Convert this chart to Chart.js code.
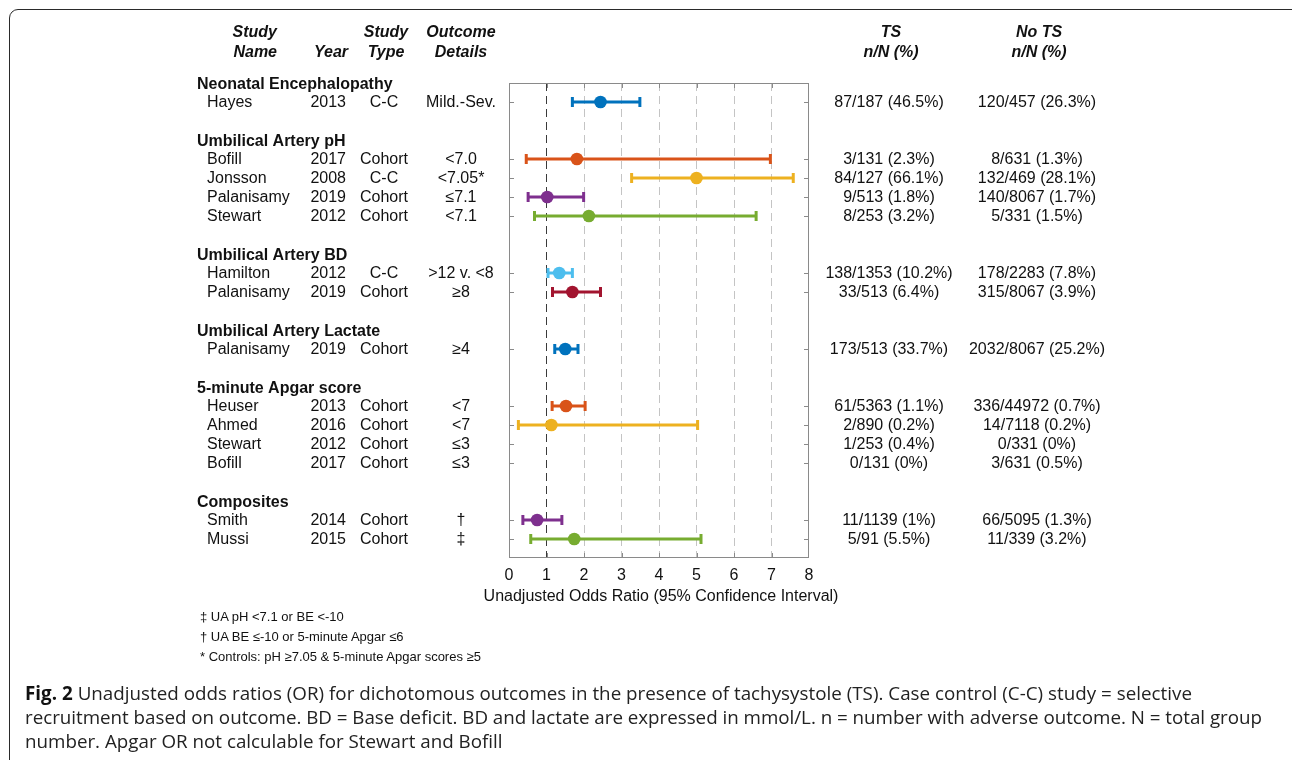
<!DOCTYPE html>
<html>
<head>
<meta charset="utf-8">
<script src="https://cdn.jsdelivr.net/npm/chart.js@4.4.1/dist/chart.umd.min.js"></script>
<style>
  html, body { margin:0; padding:0; background:#fff; width:1292px; height:760px; overflow:hidden; }
  #frame { position:absolute; left:9px; top:9px; width:1300px; height:800px; border:1.5px solid #2a2a2a; border-radius:9px; box-sizing:border-box; }
  #c { position:absolute; left:0; top:0; }
  #notes { position:absolute; left:200px; top:607px; font:13px "Liberation Sans", Arial, sans-serif; color:#111; line-height:20px; }
  #caption { position:absolute; left:25px; top:681px; font:16px "Open Sans", "Noto Sans", sans-serif; color:#222; line-height:24px; }
  #caption .ln { display:block; white-space:nowrap; width:max-content; }
  #caption b { font-weight:700; color:#111; }
</style>
</head>
<body>
<div id="frame"></div>
<canvas id="c" width="1292" height="760"></canvas>
<div id="notes">
  <div>‡ UA pH &lt;7.1 or BE &lt;-10</div>
  <div>† UA BE ≤-10 or 5-minute Apgar ≤6</div>
  <div>* Controls: pH ≥7.05 &amp; 5-minute Apgar scores ≥5</div>
</div>
<div id="caption">
  <span class="ln" data-w="1167"><b>Fig. 2</b> Unadjusted odds ratios (OR) for dichotomous outcomes in the presence of tachysystole (TS). Case control (C-C) study = selective</span>
  <span class="ln" data-w="1237">recruitment based on outcome. BD = Base deficit. BD and lactate are expressed in mmol/L. n = number with adverse outcome. N = total group</span>
  <span class="ln">number. Apgar OR not calculable for Stewart and Bofill</span>
</div>
<script>
// ---------------- data ----------------
const groupNames = ["Neonatal Encephalopathy", "Umbilical Artery pH", "Umbilical Artery BD", "Umbilical Artery Lactate", "5-minute Apgar score", "Composites"];
const groupRows = [0, 3, 9, 13, 16, 22];

const studyNames = ["Hayes", "Bofill", "Jonsson", "Palanisamy", "Stewart", "Hamilton", "Palanisamy", "Palanisamy", "Heuser", "Ahmed", "Stewart", "Bofill", "Smith", "Mussi"];
const studyYears = ["2013", "2017", "2008", "2019", "2012", "2012", "2019", "2019", "2013", "2016", "2012", "2017", "2014", "2015"];
const studyTypes = ["C-C", "Cohort", "C-C", "Cohort", "Cohort", "C-C", "Cohort", "Cohort", "Cohort", "Cohort", "Cohort", "Cohort", "Cohort", "Cohort"];
const outcomeDetails = ["Mild.-Sev.", "<7.0", "<7.05*", "≤7.1", "<7.1", ">12 v. <8", "≥8", "≥4", "<7", "<7", "≤3", "≤3", "†", "‡"];
const studyRows = [1, 4, 5, 6, 7, 10, 11, 14, 17, 18, 19, 20, 23, 24];

const oddsRatio = [2.44, 1.81, 5.00, 1.02, 2.13, 1.34, 1.69, 1.50, 1.52, 1.13, null, null, 0.75, 1.74];
const ciLow     = [1.69, 0.46, 3.27, 0.51, 0.68, 1.04, 1.16, 1.22, 1.15, 0.25, null, null, 0.37, 0.58];
const ciHigh    = [3.49, 6.97, 7.58, 1.99, 6.59, 1.69, 2.44, 1.84, 2.03, 5.03, null, null, 1.41, 5.12];

const tsCounts   = ["87/187 (46.5%)", "3/131 (2.3%)", "84/127 (66.1%)", "9/513 (1.8%)", "8/253 (3.2%)", "138/1353 (10.2%)", "33/513 (6.4%)", "173/513 (33.7%)", "61/5363 (1.1%)", "2/890 (0.2%)", "1/253 (0.4%)", "0/131 (0%)", "11/1139 (1%)", "5/91 (5.5%)"];
const noTsCounts = ["120/457 (26.3%)", "8/631 (1.3%)", "132/469 (28.1%)", "140/8067 (1.7%)", "5/331 (1.5%)", "178/2283 (7.8%)", "315/8067 (3.9%)", "2032/8067 (25.2%)", "336/44972 (0.7%)", "14/7118 (0.2%)", "0/331 (0%)", "3/631 (0.5%)", "66/5095 (1.3%)", "11/339 (3.2%)"];

const studyColors = ["#0072BD", "#D95319", "#EDB120", "#7E2F8E", "#77AC30", "#4DBEEE", "#A2142F", "#0072BD", "#D95319", "#EDB120", "#7E2F8E", "#77AC30", "#7E2F8E", "#77AC30"];

const xAxisTitle = "Unadjusted Odds Ratio (95% Confidence Interval)";

// ---------------- datasets ----------------
const datasets = [];
studyNames.forEach((n, i) => {
  if (oddsRatio[i] === null) return;
  datasets.push({
    label: n + " OR",
    data: [{ x: oddsRatio[i], y: studyRows[i] }],
    pointRadius: 6.3,
    pointBackgroundColor: studyColors[i],
    pointBorderWidth: 0,
    pointBorderColor: studyColors[i],
    showLine: false,
    order: 0
  });
  datasets.push({
    label: n + " CI",
    data: [{ x: ciLow[i], y: studyRows[i] }, { x: ciHigh[i], y: studyRows[i] }],
    showLine: true,
    borderColor: studyColors[i],
    borderWidth: 3,
    pointStyle: 'line',
    pointRotation: 90,
    pointRadius: 5,
    pointBorderWidth: 3,
    pointBorderColor: studyColors[i],
    order: 1
  });
});

const FONT = '"Liberation Sans", Arial, sans-serif';
const TXT = '#111';

const framePlugin = {
  id: 'frameTicks',
  afterDatasetsDraw(chart) {
    const { ctx, chartArea: a, scales: { x, y } } = chart;
    ctx.save();
    ctx.strokeStyle = '#8a8a8a';
    ctx.lineWidth = 1;
    ctx.strokeRect(Math.round(a.left) + 0.5, Math.round(a.top) + 0.5, Math.round(a.right - a.left) - 1, Math.round(a.bottom - a.top) - 1);
    ctx.beginPath();
    studyRows.forEach(r => {
      const py = Math.round(y.getPixelForValue(r)) + 0.5;
      ctx.moveTo(a.left, py); ctx.lineTo(a.left + 5, py);
      ctx.moveTo(a.right - 5, py); ctx.lineTo(a.right, py);
    });
    x.ticks.forEach(t => {
      if (t.value <= 0 || t.value >= 8) return;
      const px = Math.round(x.getPixelForValue(t.value)) + 0.5;
      ctx.moveTo(px, a.bottom); ctx.lineTo(px, a.bottom - 5);
      ctx.moveTo(px, a.top); ctx.lineTo(px, a.top + 5);
    });
    ctx.stroke();
    ctx.restore();
  },
  afterDraw(chart) {
    const { ctx, chartArea: a, scales: { x, y } } = chart;
    ctx.save();
    ctx.fillStyle = TXT;
    ctx.textBaseline = 'middle';
    // x axis title (drawn at full width, centred on the axis)
    ctx.font = '16px ' + FONT;
    ctx.textAlign = 'center';
    ctx.fillText(xAxisTitle, x.getPixelForValue(4) + 2, a.bottom + 39);
    // column headers
    const h1 = a.top - 50, h2 = a.top - 30;
    ctx.font = 'italic bold 16px ' + FONT;
    ctx.textAlign = 'right';
    ctx.fillText('Study', 277, h1); ctx.fillText('Name', 277, h2);
    ctx.fillText('Year', 348, h2);
    ctx.textAlign = 'center';
    ctx.fillText('Study', 386, h1); ctx.fillText('Type', 386, h2);
    ctx.fillText('Outcome', 461, h1); ctx.fillText('Details', 461, h2);
    ctx.fillText('TS', 891, h1); ctx.fillText('n/N (%)', 891, h2);
    ctx.fillText('No TS', 1039, h1); ctx.fillText('n/N (%)', 1039, h2);
    // group headers
    ctx.font = 'bold 16px ' + FONT;
    ctx.textAlign = 'left';
    groupNames.forEach((g, i) => ctx.fillText(g, 197, y.getPixelForValue(groupRows[i]) + 2));
    // study rows
    ctx.font = '16px ' + FONT;
    studyNames.forEach((n, i) => {
      const py = y.getPixelForValue(studyRows[i]) + 1;
      ctx.textAlign = 'left'; ctx.fillText(n, 207, py);
      ctx.textAlign = 'right'; ctx.fillText(studyYears[i], 346, py);
      ctx.textAlign = 'center';
      ctx.fillText(studyTypes[i], 384, py);
      ctx.fillText(outcomeDetails[i], 461, py);
      ctx.fillText(tsCounts[i], 889, py);
      ctx.fillText(noTsCounts[i], 1037, py);
    });
    ctx.restore();
  }
};

new Chart(document.getElementById('c'), {
  type: 'scatter',
  data: { datasets },
  options: {
    responsive: false,
    animation: false,
    layout: { padding: { left: 509, right: 483, top: 83, bottom: 152 } },
    plugins: { legend: { display: false }, tooltip: { enabled: false } },
    scales: {
      x: {
        type: 'linear', min: 0, max: 8,
        ticks: { stepSize: 1, padding: 8, color: TXT, font: { family: FONT, size: 16 } },
        grid: {
          display: true, drawTicks: false, lineWidth: 1,
          color: c => (c.tick && (c.tick.value === 0 || c.tick.value === 8)) ? 'rgba(0,0,0,0)' : (c.tick && c.tick.value === 1 ? '#3a3a3a' : '#c4c4c4')
        },
        border: { display: false, dash: [8, 5] },
        title: { display: false },
        afterFit(s) { s.height = 50; }
      },
      y: {
        type: 'linear', min: 0, max: 25, reverse: true,
        ticks: { display: false },
        grid: { display: false, drawTicks: false },
        border: { display: false },
        afterFit(s) { s.width = 0; }
      }
    }
  },
  plugins: [framePlugin]
});

// fit the caption font so the wrapped lines end where the reference lines end
(function fitCaption() {
  const cap = document.getElementById('caption');
  const lines = [...cap.querySelectorAll('.ln')];
  const fitted = lines.filter(l => l.dataset.w);
  let ratio = 0;
  fitted.forEach(l => { ratio += (+l.dataset.w) / l.getBoundingClientRect().width; });
  ratio /= fitted.length;
  cap.style.fontSize = (16 * ratio).toFixed(2) + 'px';
  let avgSpacing = 0;
  fitted.forEach(l => {
    const w = l.getBoundingClientRect().width;
    const sp = (+l.dataset.w - w) / l.textContent.length;
    l.style.letterSpacing = sp.toFixed(3) + 'px';
    avgSpacing += sp;
  });
  avgSpacing /= fitted.length;
  lines.filter(l => !l.dataset.w).forEach(l => { l.style.letterSpacing = avgSpacing.toFixed(3) + 'px'; });
})();
</script>
</body>
</html>
